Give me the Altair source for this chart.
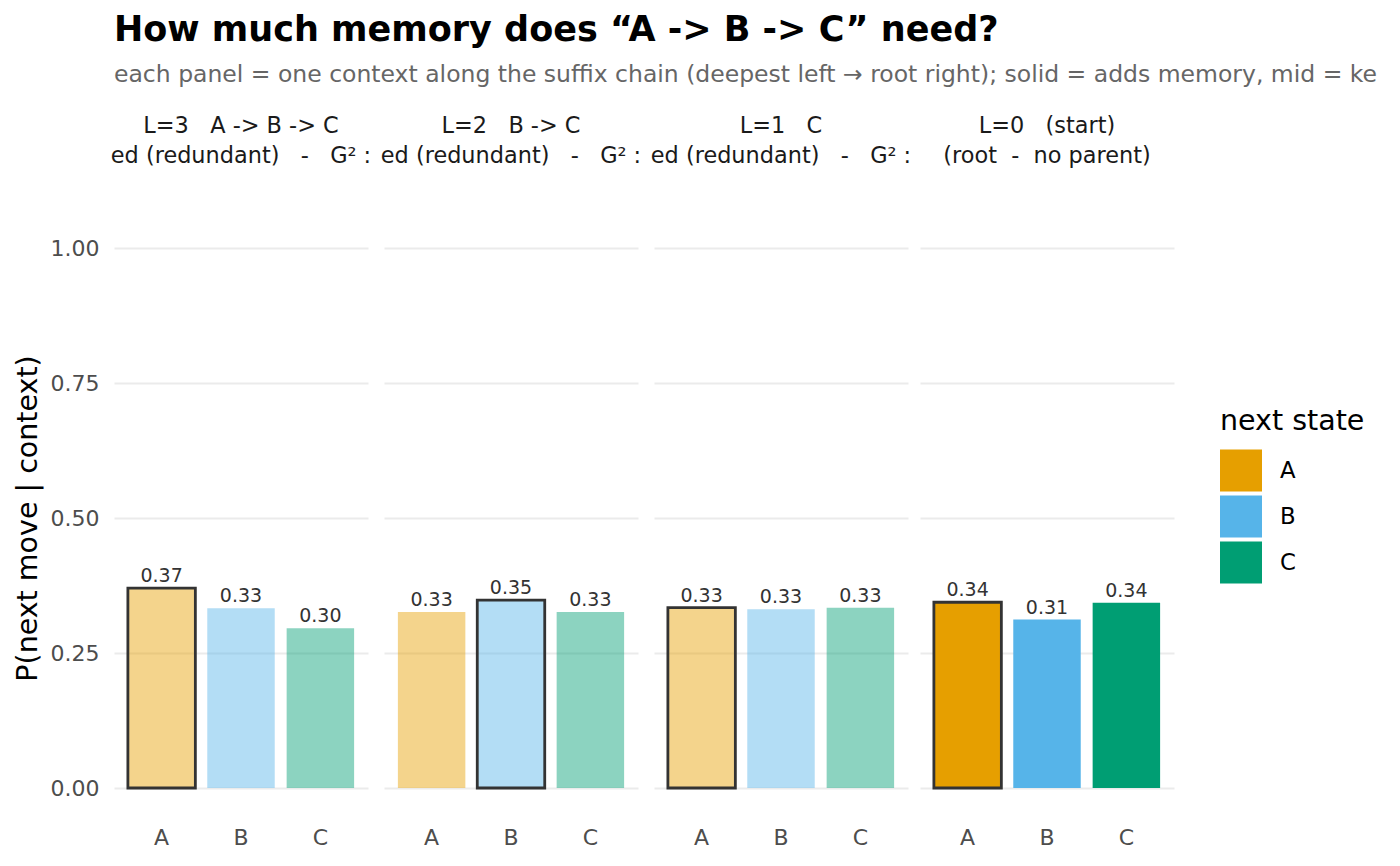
import altair as alt
import pandas as pd

NB = "\u00a0"
states = ["A", "B", "C"]
header_line1 = ["L=3" + NB * 3 + "A -> B -> C", "L=2" + NB * 3 + "B -> C",
                "L=1" + NB * 3 + "C", "L=0" + NB * 3 + "(start)"]
header_line2 = ["ed (redundant)" + NB * 3 + "-" + NB * 3 + "G\u00b2 :",
                "ed (redundant)" + NB * 3 + "-" + NB * 3 + "G\u00b2 :",
                "ed (redundant)" + NB * 3 + "-" + NB * 3 + "G\u00b2 :",
                "(root" + NB * 2 + "-" + NB * 2 + "no parent)"]
probs = [
    [0.370, 0.333, 0.296],
    [0.326, 0.348, 0.326],
    [0.334, 0.331, 0.334],
    [0.344, 0.312, 0.343],
]
adds_memory = [False, False, False, True]
most_likely = ["A", "B", "A", "A"]
colors = ["#E69F00", "#56B4E9", "#009E73"]
y_ticks = [0, 0.25, 0.5, 0.75, 1.0]

title_text = "How much memory does \u201cA -> B -> C\u201d need?"
subtitle_text = ("each panel = one context along the suffix chain (deepest left \u2192 root right); "
                 "solid = adds memory, mid = ke")

FONT = "DejaVu Sans"
GRID = "#EBEBEB"


def panel(i):
    df = pd.DataFrame({
        "state": states,
        "p": probs[i],
        "top": [s == most_likely[i] for s in states],
    })
    if i == 0:
        yaxis = alt.Axis(values=y_ticks, format=".2f", title="P(next move | context)",
                         titleFontSize=28.5, titleFontWeight="normal", titleColor="#000000",
                         titleFont=FONT, titlePadding=8,
                         labelFontSize=22, labelColor="#4D4D4D", labelFont=FONT, labelPadding=15,
                         ticks=False, domain=False, grid=True, gridColor=GRID, gridWidth=2)
    else:
        yaxis = alt.Axis(values=y_ticks, labels=False, title=None, ticks=False, domain=False,
                         grid=True, gridColor=GRID, gridWidth=2)
    x = alt.X("state:N", sort=states,
              scale=alt.Scale(domain=states, paddingInner=0.15, paddingOuter=0.175),
              axis=alt.Axis(title=None, labelAngle=0, labelFontSize=22, labelColor="#4D4D4D",
                            labelFont=FONT, ticks=False, domain=False, grid=False, labelPadding=12))
    y = alt.Y("p:Q", scale=alt.Scale(domain=[-0.05, 1.05], nice=False, zero=False), axis=yaxis)
    base = alt.Chart(df)
    bars = base.mark_bar(stroke="#333333").encode(
        x=x,
        y=y,
        y2=alt.datum(0),
        color=alt.Color("state:N", scale=alt.Scale(domain=states, range=colors),
                        legend=alt.Legend(title="next state")),
        fillOpacity=alt.value(1.0 if adds_memory[i] else 0.45),
        strokeWidth=alt.condition("datum.top", alt.value(2.8), alt.value(0)),
    )
    labels = base.mark_text(baseline="bottom", dy=-2, fontSize=19, color="#333333", font=FONT).encode(
        x=alt.X("state:N", sort=states),
        y=alt.Y("p:Q"),
        text=alt.Text("p:Q", format=".2f"),
    )
    return alt.layer(bars, labels).properties(
        width=254, height=594,
        title=alt.TitleParams(text=[header_line1[i], header_line2[i]], fontSize=22.4,
                              fontWeight="normal", color="#1A1A1A", font=FONT, anchor="middle",
                              frame="group", lineHeight=30, offset=54),
    )


chart = alt.hconcat(*[panel(i) for i in range(4)], spacing=8).resolve_scale(
    x="independent", y="shared", color="shared"
).properties(
    padding={"left": 5, "top": 5, "right": 0, "bottom": 5},
    title=alt.TitleParams(text=title_text, subtitle=subtitle_text, fontSize=35, fontWeight="bold",
                          font=FONT, color="#000000", subtitleFont=FONT, subtitleFontSize=23.5,
                          subtitleColor="#666666", subtitlePadding=15, anchor="start",
                          frame="group", offset=28),
).configure_view(stroke=None).configure_legend(
    orient="none", legendX=1106, legendY=186,
    titleFontSize=28.5, titleFontWeight="normal", titleColor="#000000", titleFont=FONT,
    titlePadding=14, labelFontSize=22.8, labelColor="#000000", labelFont=FONT,
    symbolType="square", symbolSize=1764, symbolStrokeWidth=0, symbolOpacity=1,
    rowPadding=4, labelOffset=18,
)

chart.save("out.html", embed_options={"renderer": "svg", "actions": False})
